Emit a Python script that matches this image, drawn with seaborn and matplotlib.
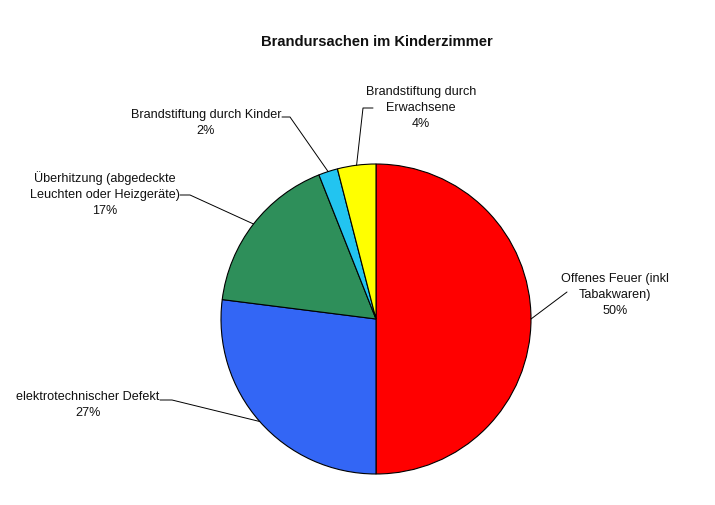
import numpy as np
import matplotlib
matplotlib.use("Agg")
import matplotlib.pyplot as plt
import seaborn as sns

###############################################################################
# data
###############################################################################
causes = [
    "Offenes Feuer (inkl\nTabakwaren)",
    "elektrotechnischer Defekt",
    "Überhitzung (abgedeckte\nLeuchten oder Heizgeräte)",
    "Brandstiftung durch Kinder",
    "Brandstiftung durch\nErwachsene",
]
shares = [50, 27, 17, 2, 4]
colors = ["#FF0000", "#3366F5", "#2E8F5A", "#22C4F0", "#FFFF00"]

# where each label sits (pixels from top-left) and the elbow of its leader line
label_xy = [(615, 295), (88, 405), (105, 194), (206, 123), (421, 108)]
elbow = [[(567, 293)], [(172, 401), (160, 401)], [(190, 196), (180, 196)],
         [(290, 118), (282, 118)], [(363, 109), (373, 109)]]

###############################################################################
# plot
###############################################################################
sns.set_theme(style="white")
plt.rcParams['font.family'] = ['Liberation Sans', 'DejaVu Sans']

W, H = 715, 506
fig = plt.figure(figsize=(7.15, 5.06), dpi=100)
ax = fig.add_axes([0, 0, 1, 1])

cx, cy, r = 376, H - 320, 155
wedges, _ = ax.pie(shares, colors=colors, startangle=90, counterclock=False,
                   center=(cx, cy), radius=r, frame=True,
                   wedgeprops=dict(edgecolor="black", linewidth=0.8))
ax.set_xlim(0, W)
ax.set_ylim(0, H)
ax.set_aspect("equal")
ax.axis("off")

for w, lab, val, (tx, ty), el in zip(wedges, causes, shares, label_xy, elbow):
    mid = np.deg2rad((w.theta1 + w.theta2) / 2)
    ex, ey = cx + r * np.cos(mid), cy + r * np.sin(mid)
    xs = [ex] + [p[0] for p in el]
    ys = [ey] + [H - p[1] for p in el]
    ax.plot(xs, ys, color="black", linewidth=0.7)
    ax.text(tx, H - ty, f"{lab}\n{val}%", ha="center", va="center",
            fontsize=9.1, color="#111111", linespacing=1.4)

ax.text(377, H - 42, "Brandursachen im Kinderzimmer", ha="center", va="center",
        fontsize=10.6, fontweight="bold", color="#111111")

fig.savefig("out.png", dpi=100, facecolor="white")
